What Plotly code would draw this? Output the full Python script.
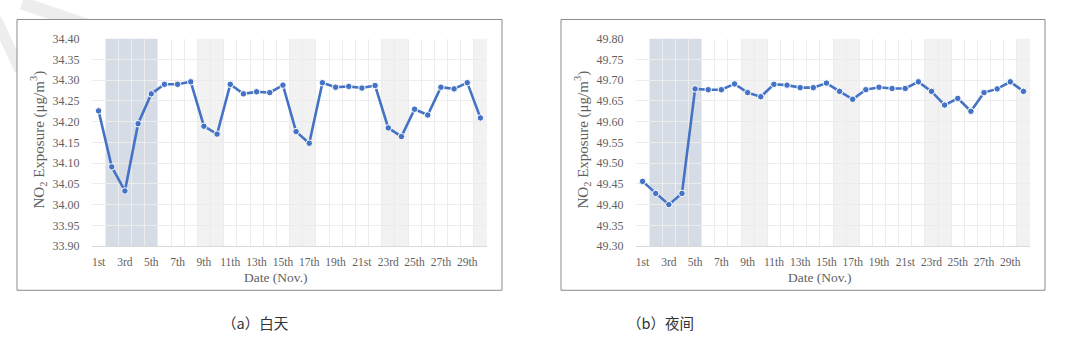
import plotly.graph_objects as go

W, H = 1080, 352

days = list(range(1, 31))
day_values = [34.226, 34.091, 34.033, 34.195, 34.267, 34.290, 34.290, 34.296, 34.189, 34.170,
              34.290, 34.267, 34.272, 34.270, 34.288, 34.176, 34.148, 34.294, 34.283, 34.285,
              34.281, 34.287, 34.185, 34.164, 34.230, 34.216, 34.283, 34.279, 34.294, 34.209]
night_values = [49.456, 49.427, 49.400, 49.427, 49.679, 49.677, 49.677, 49.691, 49.670, 49.660,
                49.690, 49.688, 49.682, 49.682, 49.693, 49.673, 49.654, 49.677, 49.683, 49.680,
                49.680, 49.696, 49.673, 49.640, 49.656, 49.625, 49.670, 49.679, 49.696, 49.673]
tick_days = [1, 3, 5, 7, 9, 11, 13, 15, 17, 19, 21, 23, 25, 27, 29]
tick_text = ["1st", "3rd", "5th", "7th", "9th", "11th", "13th", "15th", "17th", "19th",
             "21st", "23rd", "25th", "27th", "29th"]
holiday_span = (2, 5)
weekend_spans = [(9, 10), (16, 17), (23, 24), (30, 30)]
y_ranges = [(33.90, 34.40), (49.30, 49.80)]
captions = ["（a）白天", "（b）夜间"]

BLUE = "#4472C4"
TXT = "#5f5f5f"
SERIF = "Liberation Serif, Times New Roman, serif"

def px(x):
    return x / W

def py(y):
    return 1 - y / H

# panel geometry in pixels: box and plot area
panels = [
    dict(box=(17, 13, 502, 295), plot=(92, 33, 487, 249), ytitle=(38, 138), xtitle=(276, 282), cap=(255, 329)),
    dict(box=(561, 13, 1045, 295), plot=(636, 33, 1030, 249), ytitle=(582, 138), xtitle=(820, 282), cap=(660, 329)),
]

fig = go.Figure()
shapes = []
annotations = []

# faint watermark strokes (top-left)
shapes.append(dict(type="line", xref="paper", yref="paper", x0=px(22), y0=py(-4), x1=px(90), y1=py(20),
                   line=dict(color="#ededed", width=13), layer="below"))
shapes.append(dict(type="line", xref="paper", yref="paper", x0=px(-4), y0=py(12), x1=px(20), y1=py(66),
                   line=dict(color="#ededed", width=11), layer="below"))

series = [day_values, night_values]
for i, p in enumerate(panels):
    xa = "x" if i == 0 else "x2"
    ya = "y" if i == 0 else "y2"
    xk = "xaxis" if i == 0 else "xaxis2"
    yk = "yaxis" if i == 0 else "yaxis2"
    bx0, by0, bx1, by1 = p["box"]
    ax0, ay0, ax1, ay1 = p["plot"]

    # outer box
    shapes.append(dict(type="rect", xref="paper", yref="paper",
                       x0=px(bx0), y0=py(by1), x1=px(bx1), y1=py(by0),
                       line=dict(color="#8a8a8a", width=1), fillcolor="white", layer="below"))
    # holiday band
    shapes.append(dict(type="rect", xref=xa, yref=ya + " domain",
                       x0=holiday_span[0] - 0.5, x1=holiday_span[1] + 0.5, y0=0, y1=1,
                       fillcolor="#d6dce5", line=dict(width=0), layer="below"))
    for s, e in weekend_spans:
        shapes.append(dict(type="rect", xref=xa, yref=ya + " domain",
                           x0=s - 0.5, x1=e + 0.5, y0=0, y1=1,
                           fillcolor="#f2f2f2", line=dict(width=0), layer="below"))

    fig.add_trace(go.Scatter(
        x=days, y=series[i], xaxis=xa, yaxis=ya, mode="lines+markers",
        line=dict(color=BLUE, width=2.6),
        marker=dict(size=6.5, color=BLUE, line=dict(color="white", width=1)),
        showlegend=False, hoverinfo="skip"))

    fig.update_layout(**{
        xk: dict(domain=[px(ax0), px(ax1)], anchor=ya, range=[0.5, 30.5],
                 tickmode="array", tickvals=tick_days, ticktext=tick_text,
                 showgrid=False, zeroline=False,
                 showline=True, linecolor="#d9d9d9", linewidth=1,
                 ticks="outside", ticklen=5, tickcolor="rgba(0,0,0,0)",
                 tickfont=dict(family=SERIF, size=11.5, color=TXT),
                 minor=dict(tickmode="array", tickvals=[d + 0.5 for d in days[:-1]],
                            showgrid=True, gridcolor="#ececec", gridwidth=1)),
        yk: dict(domain=[py(ay1), py(ay0)], anchor=xa, range=list(y_ranges[i]),
                 dtick=0.05, tick0=y_ranges[i][0], tickformat=".2f",
                 showgrid=True, gridcolor="#ececec", gridwidth=1, zeroline=False,
                 showline=False, ticks="outside", ticklen=9, tickcolor="rgba(0,0,0,0)",
                 tickfont=dict(family=SERIF, size=12, color=TXT)),
    })

    annotations.append(dict(xref="paper", yref="paper", x=px(p["ytitle"][0]), y=py(p["ytitle"][1]),
                            text="NO<sub>2</sub> Exposure (μg/m<sup>3</sup>)", textangle=-90,
                            showarrow=False, xanchor="center", yanchor="middle",
                            font=dict(family=SERIF, size=15, color=TXT)))
    annotations.append(dict(xref="paper", yref="paper", x=px(p["xtitle"][0]), y=py(p["xtitle"][1]),
                            text="Date (Nov.)", showarrow=False, xanchor="center", yanchor="middle",
                            font=dict(family=SERIF, size=13.5, color=TXT)))
    annotations.append(dict(xref="paper", yref="paper", x=px(p["cap"][0]), y=py(p["cap"][1]),
                            text=captions[i], showarrow=False, xanchor="center", yanchor="middle",
                            font=dict(family="Noto Sans CJK SC", size=14.5, color="#333333")))

fig.update_layout(width=W, height=H, margin=dict(l=0, r=0, t=0, b=0),
                  paper_bgcolor="white", plot_bgcolor="rgba(0,0,0,0)",
                  shapes=shapes, annotations=annotations)

fig.write_html("out.html")
